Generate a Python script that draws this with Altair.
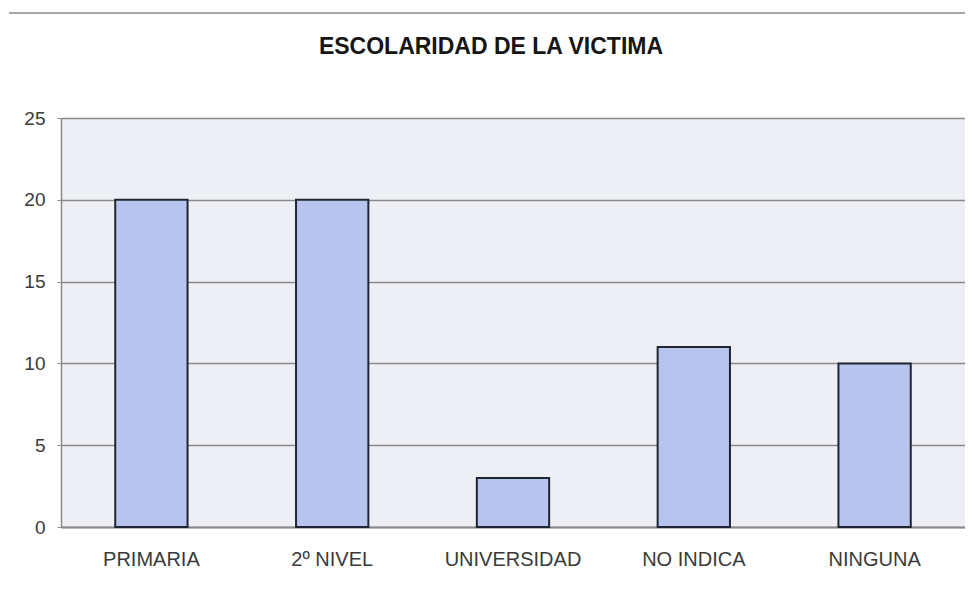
import altair as alt
import pandas as pd

categories = ["PRIMARIA", "2º NIVEL", "UNIVERSIDAD", "NO INDICA", "NINGUNA"]
values = [20, 20, 3, 11, 10]

df = pd.DataFrame({"cat": categories, "val": values})

bars = alt.Chart(df).mark_bar(
    fill="#b6c4ee", stroke="#1f2633", strokeWidth=2
).encode(
    x=alt.X("cat:N", sort=categories, title=None,
            scale=alt.Scale(paddingInner=0.6, paddingOuter=0.3),
            axis=alt.Axis(labelAngle=0, labelFontSize=20, labelColor="#3a3a3a",
                          labelFont="Liberation Sans", labelPadding=22,
                          domainColor="#8a8a8a", domainWidth=2, ticks=False, grid=False)),
    y=alt.Y("val:Q", title=None,
            scale=alt.Scale(domain=[0, 25]),
            axis=alt.Axis(values=[0, 5, 10, 15, 20, 25], labelFontSize=19,
                          labelColor="#3a3a3a", labelFont="Liberation Sans",
                          labelPadding=12, domainColor="#8a8a8a", domainWidth=1.5,
                          tickColor="#8a8a8a", tickSize=4, gridColor="#8a8a8a",
                          gridWidth=1.5)),
)

topline = alt.Chart(df).mark_rule(color="#a8a8a8", strokeWidth=2).encode(
    x=alt.value(-52), x2=alt.value(905), y=alt.value(-105)
)

chart = alt.layer(bars, topline).properties(
    width=904, height=409,
    background="white",
    title=alt.TitleParams("ESCOLARIDAD DE LA VICTIMA", font="Liberation Sans",
                          fontSize=23, fontWeight="bold", color="#151515",
                          anchor="middle", offset=0, dy=47, dx=-22),
    autosize=alt.AutoSizeParams(type="none"),
    padding={"left": 53, "top": 110, "right": 0, "bottom": 50},
).configure_view(
    fill="#edeff4", stroke="#cfcfcf"
)

chart.save("out.html", embed_options={"renderer": "svg", "actions": False})
